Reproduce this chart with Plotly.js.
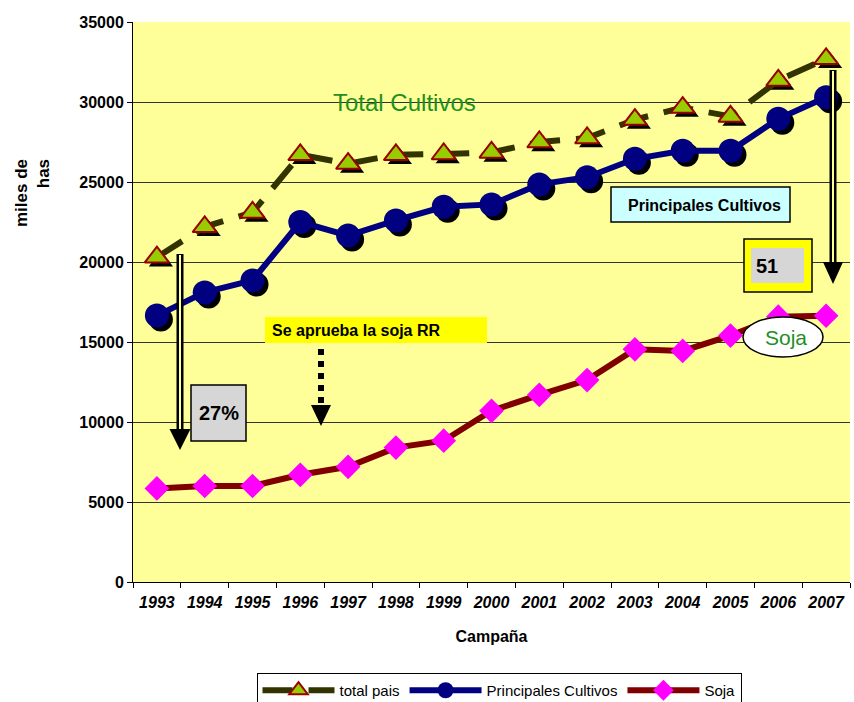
<!DOCTYPE html>
<html>
<head>
<meta charset="utf-8">
<script src="https://cdn.plot.ly/plotly-3.0.1.min.js"></script>
<style>html,body{margin:0;padding:0;background:#fff;}#chart{width:854px;height:702px;}</style>
</head>
<body>
<div id="chart"></div>
<script>
const years = ['1993','1994','1995','1996','1997','1998','1999','2000','2001','2002','2003','2004','2005','2006','2007'];
const totalPais = [20300, 22200, 23100, 26700, 26150, 26700, 26750, 26850, 27500, 27750, 28900, 29650, 29100, 31350, 32700];
const principales = [16650, 18100, 18850, 22500, 21650, 22600, 23450, 23600, 24850, 25300, 26450, 26950, 26950, 28950, 30300];
const soja = [5850, 6000, 6000, 6700, 7200, 8400, 8830, 10700, 11700, 12620, 14540, 14440, 15400, 16580, 16640];
const seriesNames = ['total pais', 'Principales Cultivos', 'Soja'];
const yTicks = [0, 5000, 10000, 15000, 20000, 25000, 30000, 35000];

const FONT = 'Liberation Sans, Arial, sans-serif';
const L = 133, T = 22, PW = 721, PH = 564; // paper area in px
const X = p => (p - L) / PW;
const Y = p => (T + PH - p) / PH;
const mainX = [0, X(850)], mainY = [Y(582), 1];
const shadowX = [X(137), 1], shadowY = [0, Y(26)];

const catAxis = (domain, anchor) => ({
  type: 'category', categoryorder: 'array', categoryarray: years,
  range: [-0.5, years.length - 0.5], autorange: false, domain: domain, anchor: anchor,
  visible: false, fixedrange: true
});
const valAxis = (domain, anchor) => ({
  range: [0, 35000], autorange: false, domain: domain, anchor: anchor, visible: false, fixedrange: true
});

const traces = [
  { // total pais
    x: years, y: totalPais, name: seriesNames[0], type: 'scatter', mode: 'lines+markers',
    xaxis: 'x3', yaxis: 'y3', cliponaxis: false,
    line: { color: '#333300', width: 6, dash: '30px,16px' },
    marker: { symbol: 'triangle-up', size: 21, color: '#99cc00', line: { color: '#990000', width: 2 } }
  },
  { // principales cultivos
    x: years, y: principales, name: seriesNames[1], type: 'scatter', mode: 'lines+markers',
    xaxis: 'x3', yaxis: 'y3', cliponaxis: false,
    line: { color: '#000080', width: 6 },
    marker: { symbol: 'circle', size: 24, color: '#000080', line: { width: 0 } }
  },
  { // soja
    x: years, y: soja, name: seriesNames[2], type: 'scatter', mode: 'lines+markers',
    xaxis: 'x', yaxis: 'y', cliponaxis: false,
    line: { color: '#800000', width: 6 },
    marker: { symbol: 'diamond', size: 19, color: '#ff00ff', line: { width: 0 } }
  },
  { // shadows
    x: years, y: totalPais, type: 'scatter', mode: 'markers', showlegend: false, hoverinfo: 'skip',
    xaxis: 'x2', yaxis: 'y2', cliponaxis: false,
    marker: { symbol: 'triangle-up', size: 21, color: '#000000', line: { width: 0 } }
  },
  {
    x: years, y: principales, type: 'scatter', mode: 'markers', showlegend: false, hoverinfo: 'skip',
    xaxis: 'x2', yaxis: 'y2', cliponaxis: false,
    marker: { symbol: 'circle', size: 24, color: '#000000', line: { width: 0 } }
  }
];

const shapes = [
  { type: 'rect', xref: 'paper', yref: 'paper', x0: mainX[0], x1: mainX[1], y0: mainY[0], y1: mainY[1],
    fillcolor: '#ffff99', line: { width: 0 }, layer: 'below' },
  // 1993 double arrow
  { type: 'line', xref: 'paper', yref: 'paper', x0: X(180), x1: X(180), y0: Y(254), y1: Y(432), line: { color: '#000', width: 7 }, layer: 'above' },
  { type: 'line', xref: 'paper', yref: 'paper', x0: X(180), x1: X(180), y0: Y(255), y1: Y(430), line: { color: '#ffff99', width: 2 }, layer: 'above' },
  { type: 'path', xref: 'paper', yref: 'paper', path: `M${X(169.5)},${Y(429)} L${X(190.5)},${Y(429)} L${X(180)},${Y(450)} Z`, fillcolor: '#000', line: { width: 0 }, layer: 'above' },
  // 2007 double arrow
  { type: 'line', xref: 'paper', yref: 'paper', x0: X(833), x1: X(833), y0: Y(70), y1: Y(265), line: { color: '#000', width: 7 }, layer: 'above' },
  { type: 'line', xref: 'paper', yref: 'paper', x0: X(833), x1: X(833), y0: Y(71), y1: Y(263), line: { color: '#ffff99', width: 2 }, layer: 'above' },
  { type: 'path', xref: 'paper', yref: 'paper', path: `M${X(823)},${Y(262)} L${X(843)},${Y(262)} L${X(833)},${Y(284)} Z`, fillcolor: '#000', line: { width: 0 }, layer: 'above' },
  // dotted arrow
  { type: 'line', xref: 'paper', yref: 'paper', x0: X(321), x1: X(321), y0: Y(349), y1: Y(406), line: { color: '#000', width: 6, dash: 'dot' }, layer: 'above' },
  { type: 'path', xref: 'paper', yref: 'paper', path: `M${X(311)},${Y(405)} L${X(331)},${Y(405)} L${X(321)},${Y(426)} Z`, fillcolor: '#000', line: { width: 0 }, layer: 'above' },
  // 51 box
  { type: 'rect', xref: 'paper', yref: 'paper', x0: X(744), x1: X(812), y0: Y(292), y1: Y(239), fillcolor: '#ffff00', line: { color: '#000', width: 1.5 }, layer: 'above' },
  { type: 'rect', xref: 'paper', yref: 'paper', x0: X(751), x1: X(804), y0: Y(283), y1: Y(248), fillcolor: '#d6d6d6', line: { width: 0 }, layer: 'above' },
  // 27% box
  { type: 'rect', xref: 'paper', yref: 'paper', x0: X(191), x1: X(246), y0: Y(441), y1: Y(385), fillcolor: '#d6d6d6', line: { color: '#000', width: 1.5 }, layer: 'above' },
  // Se aprueba box
  { type: 'rect', xref: 'paper', yref: 'paper', x0: X(265), x1: X(487), y0: Y(343), y1: Y(317), fillcolor: '#ffff00', line: { width: 0 }, layer: 'above' },
  // Principales box
  { type: 'rect', xref: 'paper', yref: 'paper', x0: X(611), x1: X(790), y0: Y(222), y1: Y(187), fillcolor: '#ccffff', line: { color: '#000', width: 1.5 }, layer: 'above' },
  // Soja ellipse
  { type: 'circle', xref: 'paper', yref: 'paper', x0: X(743), x1: X(823), y0: Y(357), y1: Y(317), fillcolor: '#ffffff', line: { color: '#000', width: 1.5 }, layer: 'above' }
];

const ann = (text, x, y, font, extra) => Object.assign({
  text: text, xref: 'paper', yref: 'paper', x: X(x), y: Y(y), showarrow: false,
  xanchor: 'center', yanchor: 'middle', font: Object.assign({ family: FONT, color: '#000' }, font)
}, extra || {});

const annotations = [
  ann('Total Cultivos', 404, 103, { size: 24, color: '#1f8f1f' }),
  ann('Principales Cultivos', 704, 205, { size: 16, weight: 'bold' }),
  ann('51', 767, 266, { size: 20, weight: 'bold' }),
  ann('27%', 218.5, 413, { size: 20, weight: 'bold' }),
  ann('Se aprueba la soja RR', 270, 330, { size: 16, weight: 'bold' }, { xanchor: 'left' }),
  ann('Soja', 786, 337, { size: 21, color: '#1f8f1f' }),
  ann('miles de<br>has', 32, 193, { size: 17, weight: 'bold' }, { textangle: -90, align: 'right' })
];

const layout = {
  width: 854, height: 702,
  margin: { l: L, r: 0, t: T, b: 702 - T - PH, autoexpand: false },
  paper_bgcolor: '#ffffff', plot_bgcolor: 'rgba(0,0,0,0)',
  font: { family: FONT, color: '#000' },
  showlegend: true,
  legend: {
    orientation: 'h', x: X(499), xanchor: 'center', y: Y(673), yanchor: 'top',
    bgcolor: '#ffffff', bordercolor: '#000', borderwidth: 1,
    font: { family: FONT, size: 15, color: '#000' }, itemwidth: 72, traceorder: 'normal'
  },
  xaxis: {
    type: 'category', categoryorder: 'array', categoryarray: years,
    range: [-0.5, years.length - 0.5], autorange: false, domain: mainX, anchor: 'y',
    showline: true, linecolor: '#000', linewidth: 1, showgrid: false,
    ticks: 'outside', tickson: 'boundaries', ticklen: 5, tickcolor: '#000',
    tickangle: 0, ticklabelstandoff: 6,
    tickfont: { family: FONT, size: 16, weight: 'bold', style: 'italic', color: '#000' },
    title: { text: 'Campaña', font: { family: FONT, size: 16, weight: 'bold', color: '#000' }, standoff: 20 },
    fixedrange: true
  },
  yaxis: {
    range: [0, 35000], autorange: false, domain: mainY, anchor: 'x',
    tickvals: yTicks, ticktext: yTicks.map(String),
    showline: true, linecolor: '#000', linewidth: 1,
    showgrid: true, gridcolor: '#333333', gridwidth: 1, zeroline: false,
    ticks: 'outside', ticklen: 5, tickcolor: '#000',
    tickfont: { family: FONT, size: 16, weight: 'bold', color: '#000' },
    fixedrange: true
  },
  xaxis2: catAxis(shadowX, 'y2'), yaxis2: valAxis(shadowY, 'x2'),
  xaxis3: catAxis(mainX, 'y3'), yaxis3: valAxis(mainY, 'x3'),
  shapes: shapes,
  annotations: annotations
};

Plotly.newPlot('chart', traces, layout, { staticPlot: true, displayModeBar: false });
</script>
</body>
</html>
